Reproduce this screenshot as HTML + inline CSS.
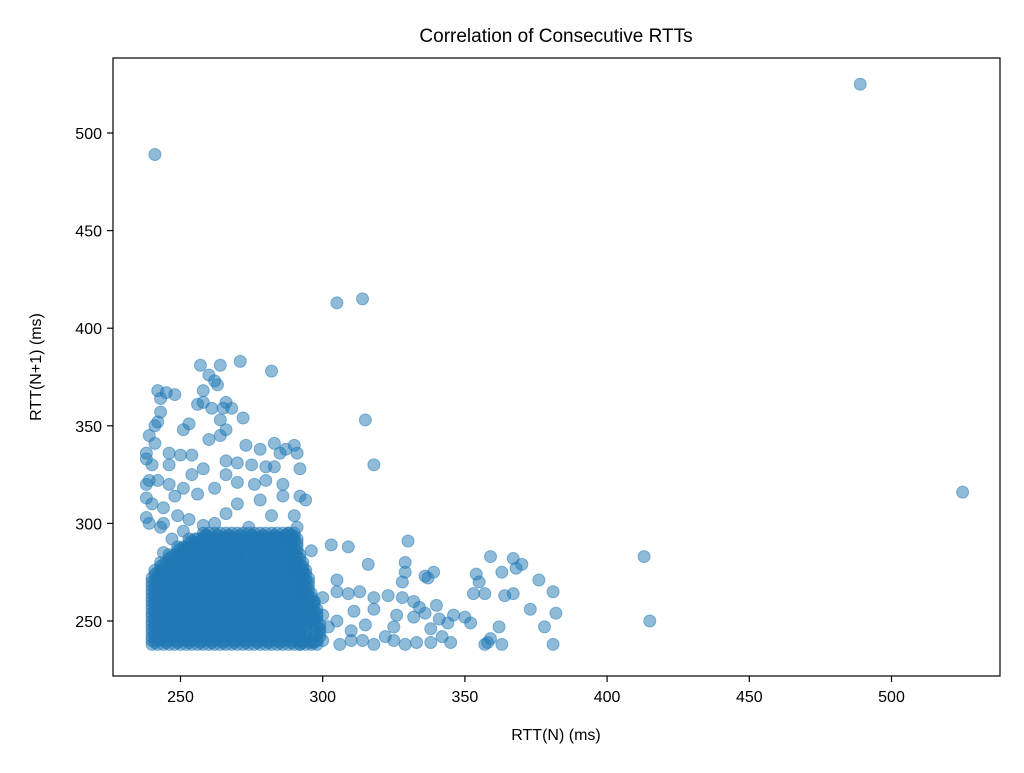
<!DOCTYPE html>
<html><head><meta charset="utf-8"><style>
html,body{margin:0;padding:0;background:#fff}
svg text{font-family:"Liberation Sans","DejaVu Sans",sans-serif;fill:#000}
</style></head><body>
<svg id="chart" width="1024" height="768" viewBox="0 0 1024 768" xmlns="http://www.w3.org/2000/svg">
<rect x="0" y="0" width="1024" height="768" fill="#fff"/>
<text x="556" y="42" font-size="19" text-anchor="middle">Correlation of Consecutive RTTs</text>
<g id="marks"></g>
<rect x="113" y="58" width="887" height="618" fill="none" stroke="#000" stroke-width="1.2"/>
<g id="xaxis"></g>
<g id="yaxis"></g>
<text x="556" y="740" font-size="16" text-anchor="middle">RTT(N) (ms)</text>
<text x="0" y="0" font-size="16" text-anchor="middle" transform="translate(41,367) rotate(-90)">RTT(N+1) (ms)</text>
</svg>
<script>
const xTicks=[250,300,350,400,450,500];
const yTicks=[250,300,350,400,450,500];
const outlierPoints=[[241,489],[489,525],[525,316],[305,413],[314,415],[315,353],[318,330],[413,283],[415,250],[282,378],[271,383],[257,381],[264,381],[242,368],[245,367],[248,366],[243,364],[260,376],[262,373],[263,371],[258,368],[256,361],[258,362],[266,362],[265,359],[268,359],[261,359],[243,357],[242,352],[241,350],[253,351],[272,354],[264,353],[266,348],[251,348],[239,345],[241,341],[260,343],[264,345],[238,336],[238,333],[246,336],[250,335],[254,335],[240,330],[246,330],[273,340],[278,338],[283,341],[287,338],[290,340],[291,336],[285,336],[266,332],[270,331],[275,330],[280,329],[283,329],[292,328],[239,322],[238,320],[242,322],[246,320],[251,318],[256,315],[270,321],[276,320],[280,322],[286,320],[286,314],[292,314],[294,312],[238,313],[240,310],[244,308],[249,304],[253,302],[258,299],[282,304],[290,304],[291,298],[238,303],[239,300],[243,298],[296,286],[303,289],[309,288],[305,271],[316,279],[329,280],[330,291],[329,275],[328,270],[336,273],[339,275],[337,272],[354,274],[359,283],[367,282],[370,279],[363,275],[368,277],[376,271],[355,270],[381,265],[353,264],[357,264],[364,263],[367,264],[373,256],[378,247],[382,254],[381,238],[362,247],[359,241],[358,239],[357,238],[363,238],[352,249],[350,252],[346,253],[344,249],[341,251],[340,258],[334,257],[336,254],[332,252],[338,246],[342,242],[345,239],[338,239],[333,239],[329,238],[325,240],[322,242],[318,238],[314,240],[310,240],[306,238],[300,240],[296,239],[292,238],[328,262],[323,263],[318,262],[313,265],[309,264],[305,265],[300,262],[297,260],[311,255],[318,256],[326,253],[332,260],[305,250],[300,253],[296,250],[315,248],[325,247],[310,245],[302,247],[247,292],[251,296],[244,285],[262,300],[266,305],[270,310],[274,298],[278,312],[262,318],[258,328],[266,325],[254,325],[248,314],[244,300]];
const clusterRows=[
{y:238,xs:[240,244,248,252,256,260,264,268,272,276,280,284,288,292,296]},
{y:242,xs:[240,244,248,252,256,260,264,268,272,276,280,284,288,292,297]},
{y:246,xs:[240,244,248,252,256,260,264,268,272,276,280,284,288,292,297]},
{y:250,xs:[240,244,248,252,256,260,264,268,272,276,280,284,288,292,296]},
{y:254,xs:[240,244,248,252,256,260,264,268,272,276,280,284,288,292,296]},
{y:258,xs:[240,244,248,252,256,260,264,268,272,276,280,284,288,292,295]},
{y:262,xs:[240,244,248,252,256,260,264,268,272,276,280,284,288,291,294]},
{y:266,xs:[240,244,248,252,256,260,264,268,272,276,280,284,288,291,293]},
{y:270,xs:[240,244,248,252,256,260,264,268,272,276,280,284,288,291,293]},
{y:274,xs:[241,244,248,252,256,260,264,268,272,276,280,284,288,291,292]},
{y:278,xs:[243,246,250,254,258,262,266,270,274,278,282,286,289,291]},
{y:282,xs:[246,249,252,256,260,264,268,272,276,280,284,288,290]},
{y:286,xs:[249,252,255,259,263,267,271,275,279,283,287,289]},
{y:290,xs:[253,256,260,264,268,272,276,280,284,287,289]},
{y:293,xs:[258,262,266,270,274,278,282,286,288]}
];
const X=v=>180.5+(v-250)*2.844;
const Y=v=>621-(v-250)*1.952;
const NS="http://www.w3.org/2000/svg";
const marks=document.getElementById('marks');
function dot(x,y){
  const c=document.createElementNS(NS,'circle');
  c.setAttribute('cx',X(x));c.setAttribute('cy',Y(y));c.setAttribute('r',6);
  c.setAttribute('fill','#1f77b4');c.setAttribute('fill-opacity','0.5');
  c.setAttribute('stroke','#1f77b4');c.setAttribute('stroke-opacity','0.5');c.setAttribute('stroke-width','1');
  
  
  marks.appendChild(c);
}
clusterRows.forEach(r=>r.xs.forEach(x=>dot(x,r.y)));
clusterRows.forEach(r=>r.xs.forEach(x=>dot(x+2,r.y)));
clusterRows.forEach(r=>r.xs.forEach(x=>dot(x,r.y+2)));
clusterRows.forEach(r=>r.xs.forEach(x=>dot(x+2,r.y+2)));
clusterRows.forEach(r=>r.xs.forEach(x=>dot(x+1,r.y+1)));
outlierPoints.forEach(p=>dot(p[0],p[1]));
const xa=document.getElementById('xaxis'),ya=document.getElementById('yaxis');
xTicks.forEach(t=>{
  const l=document.createElementNS(NS,'line');
  l.setAttribute('x1',X(t));l.setAttribute('x2',X(t));l.setAttribute('y1',676);l.setAttribute('y2',682);l.setAttribute('stroke','#000');l.setAttribute('stroke-width','1.2');
  
  
  xa.appendChild(l);
  const s=document.createElementNS(NS,'text');
  s.setAttribute('x',X(t));s.setAttribute('y',702);s.setAttribute('font-size','16');s.setAttribute('text-anchor','middle');s.textContent=t;
  
  
  xa.appendChild(s);
});
yTicks.forEach(t=>{
  const l=document.createElementNS(NS,'line');
  l.setAttribute('x1',107);l.setAttribute('x2',113);l.setAttribute('y1',Y(t));l.setAttribute('y2',Y(t));l.setAttribute('stroke','#000');l.setAttribute('stroke-width','1.2');
  
  
  ya.appendChild(l);
  const s=document.createElementNS(NS,'text');
  s.setAttribute('x',102);s.setAttribute('y',Y(t)+6);s.setAttribute('font-size','16');s.setAttribute('text-anchor','end');s.textContent=t;
  
  
  ya.appendChild(s);
});
</script>
</body></html>
